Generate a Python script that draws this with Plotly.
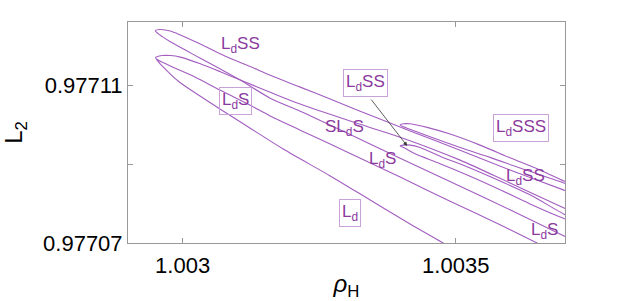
import numpy as np
import plotly.graph_objects as go

# ── Data (rho_H, L2) ──────────────────────────────────────────────────────────
# each loop: upper branch and lower branch, both starting at the tip
lss_up_x = [1.0029501, 1.0029593, 1.0029775, 1.0029958, 1.0030324, 1.0030781, 1.0031238,
            1.0031604, 1.0032153, 1.0032701, 1.003325, 1.0034164, 1.0035079, 1.0035993,
            1.0036982, 1.00372]
lss_up_y = [0.9771238, 0.9771241, 0.9771237, 0.9771227, 0.9771204, 0.9771173, 0.9771147,
            0.9771125, 0.9771095, 0.9771065, 0.9771034, 0.9770984, 0.9770935, 0.9770885,
            0.9770834, 0.9770823]
lss_low_x = [1.0029501, 1.0029556, 1.0029629, 1.0029775, 1.003005, 1.0030324, 1.003069,
             1.0031056, 1.0031604, 1.0032153, 1.0033067, 1.0033982, 1.0035079, 1.0035993,
             1.0036982, 1.00372]
lss_low_y = [0.9771238, 0.977123, 0.9771223, 0.977121, 0.9771189, 0.9771168, 0.9771141,
             0.9771113, 0.9771067, 0.9771034, 0.9770975, 0.9770915, 0.9770844, 0.9770784,
             0.9770718, 0.9770704]

ls_up_x = [1.0029501, 1.0029556, 1.0029629, 1.0029775, 1.0029958, 1.0030324, 1.003069,
           1.0031056, 1.0031604, 1.0032153, 1.0033067, 1.0033982, 1.0035079, 1.0035993,
           1.0036982, 1.00372]
ls_up_y = [0.977117, 0.9771173, 0.9771175, 0.9771175, 0.9771171, 0.9771154, 0.9771134,
           0.9771113, 0.9771082, 0.9771052, 0.9771009, 0.9770968, 0.977091, 0.9770852,
           0.9770789, 0.9770776]
ls_low_x = [1.0029501, 1.0029556, 1.0029629, 1.0029867, 1.0030233, 1.003069, 1.0031238,
            1.0031604, 1.0032153, 1.0033067, 1.0033982, 1.0034896, 1.0035811, 1.0036488,
            1.00367]
ls_low_y = [0.977117, 0.9771163, 0.9771158, 0.9771143, 0.977112, 0.9771087, 0.9771049,
            0.9771022, 0.9770986, 0.9770927, 0.9770867, 0.9770806, 0.9770746, 0.97707,
            0.9770685]

ld_x = [1.002952, 1.0029593, 1.0029739, 1.0029922, 1.0030233, 1.003069, 1.0031238,
        1.0031842, 1.0032701, 1.0033433, 1.0034164, 1.0034768, 1.00349]
ld_y = [0.9771166, 0.9771153, 0.9771133, 0.977111, 0.977108, 0.9771039, 0.9770991,
        0.9770938, 0.977087, 0.9770809, 0.9770748, 0.97707, 0.9770689]

lsss_up_x = [1.0033982, 1.0034037, 1.0034164, 1.0034475, 1.0034896, 1.0035445, 1.0035993,
             1.0036542, 1.0036982, 1.00372]
lsss_up_y = [0.9770999, 0.9771002, 0.9771002, 0.9770993, 0.9770976, 0.9770948, 0.9770916,
             0.9770885, 0.9770857, 0.9770845]
lsss_low_x = [1.0033982, 1.0034164, 1.003453, 1.0035079, 1.0035628, 1.0036177, 1.0036982,
              1.00372]
lsss_low_y = [0.9770999, 0.9770988, 0.9770969, 0.9770942, 0.9770917, 0.977089, 0.9770852,
              0.977084]

small_up_x = [1.0033982, 1.0034037, 1.0034164, 1.0034347, 1.0034713, 1.0035262, 1.0035811,
              1.003636, 1.0036982, 1.00372]
small_up_y = [0.9770946, 0.9770948, 0.9770948, 0.9770942, 0.977092, 0.977089, 0.9770857,
              0.9770822, 0.9770773, 0.977076]
small_low_x = [1.0033982, 1.0034073, 1.0034256, 1.0034713, 1.0035262, 1.0035811, 1.003636,
               1.0036982, 1.00372]
small_low_y = [0.9770946, 0.9770940, 0.9770926, 0.9770901, 0.9770869, 0.9770835, 0.9770799,
               0.9770762, 0.9770751]

line_col = '#a35ec0'
text_col = '#8b3a9e'
box_col = '#c9a3d8'


def loop(up_x, up_y, low_x, low_y):
    # walk the upper branch back to the tip, then out along the lower one
    return (np.concatenate([up_x[::-1], low_x[1:]]),
            np.concatenate([up_y[::-1], low_y[1:]]))


fig = go.Figure()
for xs, ys in [loop(lss_up_x, lss_up_y, lss_low_x, lss_low_y),
               loop(ls_up_x, ls_up_y, ls_low_x, ls_low_y),
               loop(lsss_up_x, lsss_up_y, lsss_low_x, lsss_low_y),
               loop(small_up_x, small_up_y, small_low_x, small_low_y),
               (ld_x, ld_y)]:
    fig.add_trace(go.Scatter(x=xs, y=ys, mode='lines', showlegend=False, hoverinfo='skip',
                             line=dict(color=line_col, width=1.1, shape='spline', smoothing=0.8)))

# ── Labels ────────────────────────────────────────────────────────────────────
labels = [
    ('L<sub>d</sub>SS', 1.0031056, 0.9771201, False),
    ('L<sub>d</sub>S', 1.0030964, 0.9771059, True),
    ('L<sub>d</sub>SS', 1.0033342, 0.9771105, True),
    ('SL<sub>d</sub>S', 1.0032958, 0.9770991, False),
    ('L<sub>d</sub>S', 1.0033652, 0.977091, False),
    ('L<sub>d</sub>SSS', 1.0036195, 0.9770991, True),
    ('L<sub>d</sub>SS', 1.0036268, 0.9770867, False),
    ('L<sub>d</sub>S', 1.0036633, 0.9770730, False),
    ('L<sub>d</sub>', 1.0033067, 0.9770776, True),
]
for txt, x, y, boxed in labels:
    fig.add_annotation(x=x, y=y, text=txt, showarrow=False,
                       font=dict(size=17, color=text_col, family='Liberation Sans, Arial'),
                       bordercolor=box_col if boxed else 'rgba(0,0,0,0)',
                       borderwidth=1, borderpad=2)

# arrow from the boxed L_dSS label to the small loop tip
fig.add_annotation(x=1.003411, y=0.9770946, ax=1.0033433, ay=0.9771067,
                   xref='x', yref='y', axref='x', ayref='y', text='',
                   showarrow=True, arrowhead=2, arrowsize=1, arrowwidth=0.8,
                   arrowcolor='#333333')

axis_font = dict(size=22, family='Liberation Sans, Arial', color='black')
fig.update_xaxes(range=[1.0029, 1.0037], tickvals=[1.003, 1.0035], ticktext=['1.003', '1.0035'],
                 ticks='inside', ticklen=5, tickcolor='#999999', showline=True,
                 linecolor='#999999', mirror='ticks', showgrid=False, zeroline=False,
                 tickfont=axis_font, automargin=False, ticklabelstandoff=3,
                 title=dict(text='<i>ρ</i><sub>H</sub>', font=dict(size=24, color='black',
                            family='Liberation Sans, Arial'), standoff=0))
fig.update_yaxes(range=[0.97707, 0.977126], tickvals=[0.97707, 0.97709, 0.97711],
                 ticktext=['0.97707', '', '0.97711'],
                 ticks='inside', ticklen=5, tickcolor='#999999', showline=True,
                 linecolor='#999999', mirror='ticks', showgrid=False, zeroline=False,
                 tickfont=axis_font, automargin=False,
                 title=dict(text='L<sub>2</sub>', font=dict(size=24, color='black',
                            family='Liberation Sans, Arial'), standoff=24))

fig.update_layout(width=623, height=301, margin=dict(l=128, r=58, t=22, b=58),
                  plot_bgcolor='white', paper_bgcolor='white')

# the page's default body margin would shift the figure by 8px
fig.write_html("out.html", config={'displayModeBar': False},
               post_script="document.body.style.margin='0';")
